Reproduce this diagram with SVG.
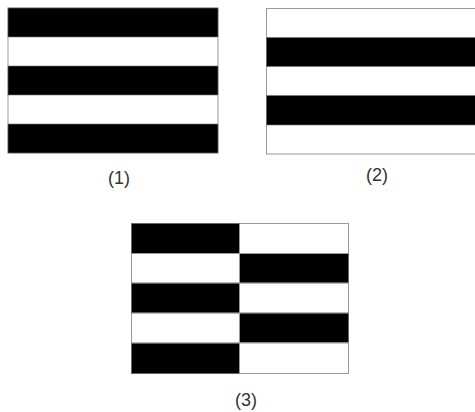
<svg xmlns="http://www.w3.org/2000/svg" width="475" height="412" viewBox="0 0 475 412">
<style>
.w{fill:#fff;stroke:#999;stroke-width:1}
.b{fill:#000;stroke:#777;stroke-width:0.6}
.t{font-family:"Liberation Sans",Arial,sans-serif;font-size:18px;fill:#333;text-anchor:middle}
</style>
<rect width="475" height="412" fill="#fff"/>
<g id="fig1">
<rect class="w" x="8" y="8" width="210" height="145"/>
<rect class="b" x="8" y="8" width="210" height="29"/>
<rect class="b" x="8" y="66" width="210" height="29"/>
<rect class="b" x="8" y="124" width="210" height="29"/>
<text class="t" x="119" y="184">(1)</text>
</g>
<g id="fig2">
<rect class="w" x="266.5" y="8.5" width="215" height="145.5"/>
<rect class="b" x="266.5" y="37.5" width="215" height="29"/>
<rect class="b" x="266.5" y="95.5" width="215" height="29.5"/>
<text class="t" x="377" y="181">(2)</text>
</g>
<g id="fig3">
<rect class="w" x="131.5" y="223.5" width="217" height="150"/>
<rect class="b" x="131.5" y="223.5" width="108" height="30"/>
<rect class="b" x="131.5" y="283" width="108" height="30"/>
<rect class="b" x="131.5" y="343" width="108" height="30.5"/>
<rect class="b" x="239.5" y="253.5" width="109" height="29.5"/>
<rect class="b" x="239.5" y="313" width="109" height="29.5"/>
<line x1="131.5" y1="253.5" x2="348.5" y2="253.5" stroke="#999"/>
<line x1="131.5" y1="283" x2="348.5" y2="283" stroke="#999"/>
<line x1="131.5" y1="313" x2="348.5" y2="313" stroke="#999"/>
<line x1="131.5" y1="343" x2="348.5" y2="343" stroke="#999"/>
<line x1="239.5" y1="223.5" x2="239.5" y2="373.5" stroke="#999"/>
<text class="t" x="246" y="406">(3)</text>
</g>
</svg>
